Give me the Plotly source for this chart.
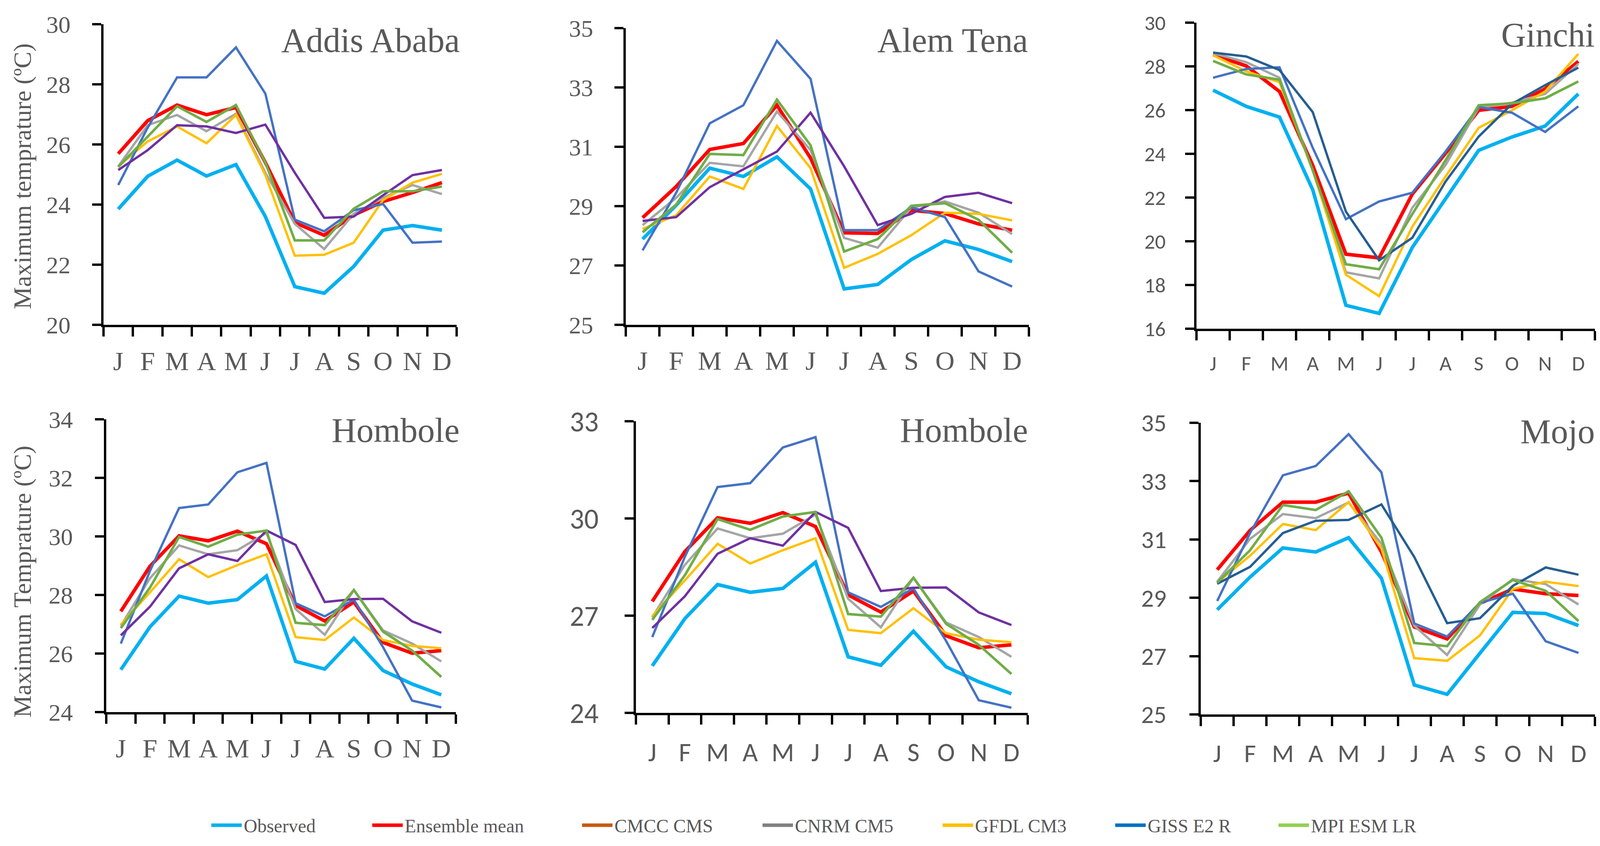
import plotly.graph_objects as go

W, H = 4111, 2167
MONTHS = ["J", "F", "M", "A", "M", "J", "J", "A", "S", "O", "N", "D"]
X = list(range(12))

# ---------------- data (maximum temperature, degC) ----------------
# Addis Ababa
addis_observed = [23.85, 24.94, 25.48, 24.95, 25.33, 23.60, 21.27, 21.05, 21.94, 23.15, 23.30, 23.15]
addis_ensemble = [25.69, 26.79, 27.31, 26.99, 27.23, 25.40, 23.40, 22.98, 23.65, 24.10, 24.40, 24.73]
addis_cnrm = [25.27, 26.64, 26.98, 26.44, 27.02, 25.06, 23.36, 22.52, 23.69, 24.23, 24.65, 24.35]
addis_gfdl = [25.27, 26.10, 26.60, 26.04, 26.98, 24.98, 22.30, 22.33, 22.73, 24.15, 24.73, 25.02]
addis_giss = [24.65, 26.56, 28.23, 28.23, 29.23, 27.69, 23.50, 23.11, 23.81, 24.02, 22.73, 22.77]
addis_cmcc = [25.15, 25.81, 26.64, 26.60, 26.38, 26.66, 25.06, 23.56, 23.60, 24.31, 24.98, 25.15]
addis_mpi = [25.25, 26.27, 27.27, 26.75, 27.31, 25.40, 22.81, 22.81, 23.86, 24.44, 24.44, 24.60]

# Alem Tena
alem_observed = [27.89, 29.03, 30.28, 30.00, 30.66, 29.58, 26.21, 26.36, 27.20, 27.83, 27.54, 27.13]
alem_ensemble = [28.61, 29.66, 30.91, 31.11, 32.40, 30.62, 28.10, 28.08, 28.86, 28.75, 28.40, 28.19]
alem_cnrm = [28.36, 29.28, 30.46, 30.34, 32.19, 30.89, 27.93, 27.60, 28.95, 29.16, 28.78, 28.06]
alem_gfdl = [28.23, 28.69, 30.00, 29.58, 31.70, 30.28, 26.92, 27.39, 28.02, 28.78, 28.74, 28.52]
alem_giss = [27.51, 29.45, 31.79, 32.40, 34.57, 33.29, 28.19, 28.19, 28.96, 28.63, 26.80, 26.29]
alem_cmcc = [28.50, 28.63, 29.64, 30.25, 30.84, 32.15, 30.34, 28.36, 28.74, 29.31, 29.45, 29.10]
alem_mpi = [28.12, 29.05, 30.76, 30.72, 32.59, 31.05, 27.47, 27.89, 29.01, 29.10, 28.54, 27.43]

# Ginchi
ginchi_observed = [26.91, 26.17, 25.68, 22.36, 17.07, 16.70, 19.72, 21.94, 24.16, 24.77, 25.27, 26.74]
ginchi_ensemble = [28.53, 28.02, 26.85, 23.48, 19.41, 19.24, 22.16, 24.02, 25.99, 26.17, 26.97, 28.23]
ginchi_cnrm = [28.60, 28.19, 27.48, 23.25, 18.58, 18.30, 21.53, 23.48, 26.11, 26.34, 26.74, 28.11]
ginchi_gfdl = [28.51, 27.77, 27.28, 23.25, 18.47, 17.49, 20.67, 22.96, 25.19, 25.99, 26.85, 28.57]
ginchi_giss = [27.48, 27.88, 27.96, 24.28, 21.01, 21.82, 22.22, 24.10, 26.14, 25.88, 25.00, 26.17]
ginchi_cmcc = [28.63, 28.45, 27.83, 25.91, 21.36, 19.13, 20.16, 22.73, 24.79, 26.28, 27.14, 27.94]
ginchi_mpi = [28.25, 27.63, 27.39, 23.25, 18.95, 18.72, 21.24, 23.70, 26.22, 26.31, 26.54, 27.31]

# Hombole
hombole_observed = [25.45, 26.91, 27.96, 27.72, 27.84, 28.65, 25.73, 25.47, 26.52, 25.42, 24.96, 24.59]
hombole_ensemble = [27.44, 28.98, 30.02, 29.85, 30.18, 29.75, 27.64, 27.11, 27.76, 26.38, 26.01, 26.10]
hombole_cnrm = [26.95, 28.57, 29.69, 29.39, 29.53, 30.12, 27.52, 26.64, 28.17, 26.79, 26.34, 25.73]
hombole_gfdl = [26.99, 28.09, 29.22, 28.61, 29.02, 29.39, 26.56, 26.46, 27.23, 26.46, 26.26, 26.18]
hombole_giss = [26.34, 28.82, 30.97, 31.09, 32.19, 32.51, 27.72, 27.27, 27.84, 26.22, 24.39, 24.16]
hombole_cmcc = [26.62, 27.60, 28.91, 29.39, 29.16, 30.20, 29.71, 27.76, 27.86, 27.87, 27.10, 26.71]
hombole_mpi = [26.87, 28.25, 29.98, 29.65, 30.06, 30.20, 27.05, 26.97, 28.17, 26.75, 26.10, 25.20]

# Mojo
mojo_observed = [28.59, 29.71, 30.71, 30.57, 31.06, 29.67, 26.01, 25.69, 27.10, 28.50, 28.46, 28.05]
mojo_ensemble = [29.96, 31.31, 32.28, 32.28, 32.59, 30.57, 28.00, 27.59, 28.81, 29.30, 29.14, 29.08]
mojo_cnrm = [29.55, 31.02, 31.87, 31.73, 32.27, 30.85, 28.04, 27.04, 28.77, 29.64, 29.47, 28.77]
mojo_gfdl = [29.52, 30.44, 31.53, 31.32, 32.28, 30.69, 26.93, 26.84, 27.71, 29.30, 29.55, 29.40]
mojo_giss = [28.89, 31.22, 33.20, 33.52, 34.61, 33.30, 28.12, 27.67, 28.83, 29.14, 27.51, 27.11]
mojo_cmcc = [29.48, 30.06, 31.22, 31.64, 31.67, 32.20, 30.40, 28.13, 28.30, 29.41, 30.04, 29.79]
mojo_mpi = [29.52, 30.63, 32.18, 32.01, 32.65, 31.06, 27.45, 27.34, 28.85, 29.61, 29.24, 28.20]

LEGEND_LABELS = ["Observed", "Ensemble mean", "CMCC CMS", "CNRM CM5", "GFDL CM3", "GISS E2 R", "MPI ESM LR"]
LEGEND_COLORS = ["#00B0F0", "#FF0000", "#C55A11", "#808080", "#FFC000", "#0070C0", "#92D050"]

# ---------------- styling ----------------
C_OBS, C_ENS, C_GRAY, C_GOLD = "#00B0F0", "#FF0000", "#A5A5A5", "#FFC000"
C_BLUE, C_PURPLE, C_GREEN, C_DARK = "#4472C4", "#7030A0", "#70AD47", "#255E91"
SERIF = "Liberation Serif, Times New Roman, serif"
SANS = "Carlito, Liberation Sans, Arial, sans-serif"
TXT = "#595959"


def series(obs, ens, cnrm, gfdl, giss, cmcc, mpi, cmcc_color):
    return [
        ("Observed", obs, C_OBS, 9),
        ("Ensemble mean", ens, C_ENS, 9),
        ("CNRM CM5", cnrm, C_GRAY, 6),
        ("GFDL CM3", gfdl, C_GOLD, 6),
        ("GISS E2 R", giss, C_BLUE, 6),
        ("CMCC CMS", cmcc, cmcc_color, 6),
        ("MPI ESM LR", mpi, C_GREEN, 6.5),
    ]


panels = [
    dict(xd=(265, 1169), yd=(62, 832), rng=(20, 30), dt=2, fam=SERIF, ts=62, ms=68, ysoff=43, xsoff=4,
         title="Addis Ababa", tx=1179, ty=103,
         s=series(addis_observed, addis_ensemble, addis_cnrm, addis_gfdl, addis_giss, addis_cmcc, addis_mpi, C_PURPLE)),
    dict(xd=(1602, 2634), yd=(72, 832), rng=(25, 35), dt=2, fam=SERIF, ts=62, ms=68, ysoff=42, xsoff=3,
         title="Alem Tena", tx=2634, ty=103,
         s=series(alem_observed, alem_ensemble, alem_cnrm, alem_gfdl, alem_giss, alem_cmcc, alem_mpi, C_PURPLE)),
    dict(xd=(3063, 4083), yd=(58, 842), rng=(16, 30), dt=2, fam=SANS, ts=54, ms=54, ysoff=39, xsoff=12,
         title="Ginchi", tx=4085, ty=89,
         s=series(ginchi_observed, ginchi_ensemble, ginchi_cnrm, ginchi_gfdl, ginchi_giss, ginchi_cmcc, ginchi_mpi, C_DARK)),
    dict(xd=(272, 1167), yd=(1074, 1824), rng=(24, 34), dt=2, fam=SERIF, ts=62, ms=68, ysoff=44, xsoff=4,
         title="Hombole", tx=1179, ty=1102,
         s=series(hombole_observed, hombole_ensemble, hombole_cnrm, hombole_gfdl, hombole_giss, hombole_cmcc, hombole_mpi, C_PURPLE)),
    dict(xd=(1628, 2631), yd=(1079, 1826), rng=(24, 33), dt=3, fam=SANS, ts=73, ms=68, ysoff=52, xsoff=12,
         title="Hombole", tx=2634, ty=1102,
         s=series(hombole_observed, hombole_ensemble, hombole_cnrm, hombole_gfdl, hombole_giss, hombole_cmcc, hombole_mpi, C_PURPLE)),
    dict(xd=(3074, 4083), yd=(1083, 1830), rng=(25, 35), dt=2, fam=SANS, ts=64, ms=66, ysoff=46, xsoff=13,
         title="Mojo", tx=4085, ty=1105,
         s=series(mojo_observed, mojo_ensemble, mojo_cnrm, mojo_gfdl, mojo_giss, mojo_cmcc, mojo_mpi, C_DARK)),
]

fig = go.Figure()
layout = dict(width=W, height=H, margin=dict(l=0, r=0, t=0, b=0, autoexpand=False), autosize=False,
              paper_bgcolor="white", plot_bgcolor="white", annotations=[])

for i, p in enumerate(panels, start=1):
    xa = "x" if i == 1 else f"x{i}"
    ya = "y" if i == 1 else f"y{i}"
    for name, vals, col, lw in p["s"]:
        fig.add_trace(go.Scatter(x=X, y=vals, mode="lines", name=name, showlegend=False,
                                 line=dict(color=col, width=lw), xaxis=xa, yaxis=ya))
    layout["xaxis" if i == 1 else f"xaxis{i}"] = dict(
        domain=[p["xd"][0] / W, p["xd"][1] / W], anchor=ya, range=[-0.5, 11.5],
        tickmode="array", tickvals=X, ticktext=MONTHS,
        ticks="outside", ticklen=24, tickcolor="rgba(0,0,0,0)", tickwidth=1,
        ticklabelstandoff=p["xsoff"],
        minor=dict(tickmode="array", tickvals=[k - 0.5 for k in range(13)], ticks="outside",
                   ticklen=24, tickwidth=6, tickcolor="black", showgrid=False),
        showline=True, linewidth=6, linecolor="black", showgrid=False, zeroline=False, automargin=False,
        tickfont=dict(family=p["fam"], size=p["ms"], color=TXT), fixedrange=True)
    layout["yaxis" if i == 1 else f"yaxis{i}"] = dict(
        domain=[1 - p["yd"][1] / H, 1 - p["yd"][0] / H], anchor=xa, range=list(p["rng"]),
        tick0=p["rng"][0], dtick=p["dt"], ticks="outside", ticklen=23, tickwidth=6, tickcolor="black",
        ticklabelstandoff=p["ysoff"], automargin=False,
        showline=True, linewidth=6, linecolor="black", showgrid=False, zeroline=False,
        tickfont=dict(family=p["fam"], size=p["ts"], color=TXT), fixedrange=True)
    layout["annotations"].append(dict(
        text=p["title"], x=p["tx"] / W, y=1 - p["ty"] / H, xref="paper", yref="paper",
        xanchor="right", yanchor="middle", showarrow=False,
        font=dict(family=SERIF, size=88, color=TXT)))

# y-axis titles
layout["annotations"].append(dict(
    text="Maximum temprature (ºC)", x=58 / W, y=1 - 452 / H, xref="paper", yref="paper",
    xanchor="center", yanchor="middle", textangle=-90, showarrow=False,
    font=dict(family=SERIF, size=64, color=TXT)))
layout["annotations"].append(dict(
    text="Maximum Temprature (ºC)", x=57 / W, y=1 - 1490 / H, xref="paper", yref="paper",
    xanchor="center", yanchor="middle", textangle=-90, showarrow=False,
    font=dict(family=SERIF, size=64, color=TXT)))

# legend: one legend box per entry, placed along the bottom
LEG_X = [544, 956, 1493, 1955, 2416, 2858, 3276]
for k, (lab, col) in enumerate(zip(LEGEND_LABELS, LEGEND_COLORS)):
    key = "legend" if k == 0 else f"legend{k + 1}"
    fig.add_trace(go.Scatter(x=[None], y=[None], mode="lines", name=lab,
                             line=dict(color=col, width=9), legend=key, showlegend=True))
    layout[key] = dict(x=(LEG_X[k] - 8) / W, y=1 - 2114 / H, xanchor="left", yanchor="middle",
                       orientation="h", bgcolor="rgba(0,0,0,0)", borderwidth=0, itemwidth=78,
                       font=dict(family=SERIF, size=48, color=TXT), itemclick=False, itemdoubleclick=False)

fig.update_layout(**layout)
fig.write_html("out.html", config={"displayModeBar": False},
               post_script="document.body.style.margin='0';document.body.style.overflow='hidden';")
